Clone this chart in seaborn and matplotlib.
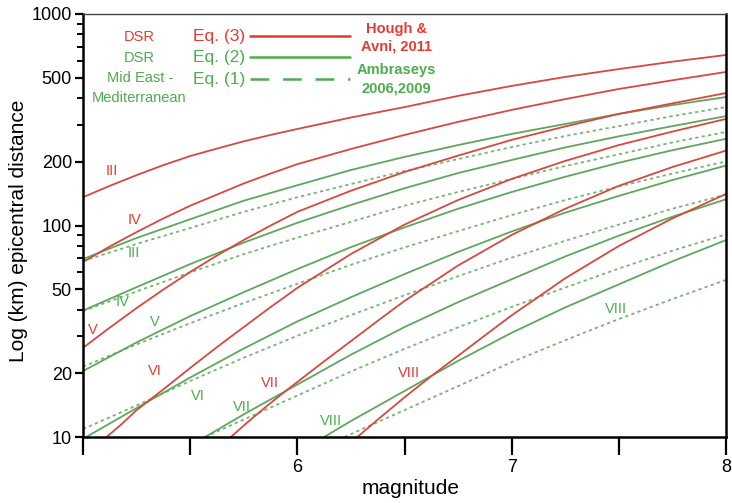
import pandas as pd
import seaborn as sns
import matplotlib.pyplot as plt
from matplotlib.lines import Line2D
from matplotlib.ticker import FixedLocator, NullFormatter, FixedFormatter

# distances in km, for each intensity curve
grid = [5.0, 5.25, 5.5, 5.75, 6.0, 6.25, 6.5, 6.75, 7.0, 7.25, 7.5, 7.75, 8.0]
fine = [5.0, 5.125, 5.25, 5.375, 5.5, 5.625, 5.75, 5.875, 6.0,
        6.25, 6.5, 6.75, 7.0, 7.25, 7.5, 7.75, 8.0]

# Eq. (3) DSR, Hough & Avni 2011 (red)
red_iii_m = fine
red_iii_r = [136, 154, 173, 193, 213, 231, 250, 268, 286, 324, 363, 410, 457, 504, 549, 595, 640]
red_iv_m = fine
red_iv_r = [67.2, 79.6, 93.1, 108, 124, 140, 158, 176, 195, 230, 268, 309, 352, 396, 442, 486, 532]
red_v_m = fine
red_v_r = [26.4, 32.9, 40.7, 49.8, 60.3, 72.1, 85.4, 99.9, 116, 146, 179, 214, 254, 294, 337, 378, 423]
red_vi_m = [5.11, 5.18, 5.25, 5.375, 5.5, 5.625, 5.75, 5.875, 6.0,
            6.25, 6.5, 6.75, 7.0, 7.25, 7.5, 7.75, 8.0]
red_vi_r = [10, 11.5, 13.4, 16.8, 21.2, 26.6, 33.1, 41.1, 50.7, 73.3, 101, 132, 166, 202, 240, 278, 319]
red_vii_m = [5.69, 5.77, 5.85, 5.925, 6.0, 6.125, 6.25, 6.375, 6.5, 6.75, 7.0, 7.25, 7.5, 7.75, 8.0]
red_vii_r = [10, 11.8, 13.8, 15.9, 18.2, 22.8, 28.4, 35.4, 44.0, 64.7, 90.2, 120, 154, 189, 226]
red_viii_m = [6.28, 6.38, 6.5, 6.625, 6.75, 6.875, 7.0, 7.25, 7.5, 7.75, 8.0]
red_viii_r = [10, 12.2, 15.4, 19.4, 24.2, 30.2, 37.6, 56.3, 80.0, 108, 141]

# Eq. (2) DSR (green solid)
g2_iii_m = grid
g2_iii_r = [69.4, 87.3, 107, 131, 155, 183, 211, 240, 271, 302, 337, 371, 405]
g2_iv_m = grid
g2_iv_r = [39.6, 51.1, 65.7, 83.0, 103, 125, 150, 177, 204, 234, 264, 295, 329]
g2_v_m = grid
g2_v_r = [20.5, 28.0, 37.3, 48.4, 62.2, 79.0, 98.0, 120, 144, 170, 198, 227, 257]
g2_vi_m = [5.015] + grid[1:]
g2_vi_r = [10, 13.7, 19.1, 26.2, 35.2, 45.8, 58.9, 75.0, 93.7, 115, 138, 164, 192]
g2_vii_m = [5.57, 5.75, 6.0, 6.25, 6.5, 6.75, 7.0, 7.25, 7.5, 7.75, 8.0]
g2_vii_r = [10, 12.8, 17.7, 24.5, 33.1, 43.4, 55.7, 71.4, 89.5, 110, 133]
g2_viii_m = [6.125, 6.25, 6.5, 6.75, 7.0, 7.25, 7.5, 7.75, 8.0]
g2_viii_r = [10, 11.9, 16.5, 22.9, 31.1, 41.0, 52.7, 67.7, 85.3]

# Eq. (1) Mid East - Mediterranean, Ambraseys 2006, 2009 (green dashed)
g1_iii_m = grid
g1_iii_r = [67.9, 81.8, 97.3, 116, 136, 157, 181, 206, 235, 265, 295, 329, 363]
g1_iv_m = grid
g1_iv_r = [39.4, 48.8, 60.0, 73.2, 87.7, 104, 124, 144, 166, 191, 217, 247, 277]
g1_v_m = grid
g1_v_r = [21.5, 27.4, 34.5, 43.0, 53.0, 65.2, 78.8, 94.0, 112, 132, 153, 176, 201]
g1_vi_m = grid
g1_vi_r = [10.9, 14.1, 18.4, 23.7, 30.1, 37.7, 46.8, 57.6, 70.5, 84.7, 101, 120, 140]
g1_vii_m = [5.57, 5.75, 6.0, 6.25, 6.5, 6.75, 7.0, 7.25, 7.5, 7.75, 8.0]
g1_vii_r = [10, 12.1, 15.7, 20.4, 26.1, 33.0, 41.2, 50.9, 62.6, 76.0, 90.8]
g1_viii_m = [6.22, 6.5, 6.75, 7.0, 7.25, 7.5, 7.75, 8.0]
g1_viii_r = [10, 13.4, 17.4, 22.6, 28.7, 36.1, 44.9, 55.3]

intensities = ["III", "IV", "V", "VI", "VII", "VIII"]

# curve labels
red_lab = ["III", "IV", "V", "VI", "VII", "VIII"]
red_lab_m = [5.135, 5.242, 5.047, 5.335, 5.870, 6.521]
red_lab_r = [181, 106, 32.1, 20.5, 18.0, 20.1]
green_lab = ["III", "IV", "V", "VI", "VII", "VIII", "VIII"]
green_lab_m = [5.237, 5.186, 5.335, 5.535, 5.74, 6.158, 7.488]
green_lab_r = [74.1, 43.5, 35.0, 15.6, 13.9, 11.9, 40.3]

RED = "#d6493f"
RED_TXT = "#e83a30"
GREEN = "#5da85d"
GREEN_DASH = "#78b478"
GREEN_TXT = "#4cae4c"

curves = {
    "eq3": [(red_iii_m, red_iii_r), (red_iv_m, red_iv_r), (red_v_m, red_v_r),
            (red_vi_m, red_vi_r), (red_vii_m, red_vii_r), (red_viii_m, red_viii_r)],
    "eq2": [(g2_iii_m, g2_iii_r), (g2_iv_m, g2_iv_r), (g2_v_m, g2_v_r),
            (g2_vi_m, g2_vi_r), (g2_vii_m, g2_vii_r), (g2_viii_m, g2_viii_r)],
    "eq1": [(g1_iii_m, g1_iii_r), (g1_iv_m, g1_iv_r), (g1_v_m, g1_v_r),
            (g1_vi_m, g1_vi_r), (g1_vii_m, g1_vii_r), (g1_viii_m, g1_viii_r)],
}

rows = []
for eq, lst in curves.items():
    for inten, (ms, rs) in zip(intensities, lst):
        for m, r in zip(ms, rs):
            rows.append({"magnitude": m, "distance": r, "eq": eq, "intensity": inten})
df = pd.DataFrame(rows)

sns.set_theme(style="ticks")
plt.rcParams["font.family"] = ["Liberation Sans", "DejaVu Sans"]

fig = plt.figure(figsize=(7.32, 5.03), dpi=100)
ax = fig.add_axes([83 / 732, 66 / 503, 643 / 732, 423 / 503])

sns.lineplot(
    data=df, x="magnitude", y="distance", hue="eq", style="eq",
    units="intensity", estimator=None, sort=False, legend=False,
    hue_order=["eq1", "eq2", "eq3"], style_order=["eq1", "eq2", "eq3"],
    palette={"eq1": GREEN_DASH, "eq2": GREEN, "eq3": RED},
    dashes={"eq1": (1.8, 1.8), "eq2": "", "eq3": ""},
    linewidth=1.3, ax=ax,
)

ax.set_yscale("log")
ax.set_xlim(5.0, 8.0)
ax.set_ylim(10, 1000)

ax.xaxis.set_major_locator(FixedLocator([5.0, 5.5, 6.0, 6.5, 7.0, 7.5, 8.0]))
ax.xaxis.set_major_formatter(FixedFormatter(["", "", "6", "", "7", "", "8"]))
ax.xaxis.set_minor_locator(FixedLocator([]))
ax.yaxis.set_major_locator(FixedLocator([10, 20, 50, 100, 200, 500, 1000]))
ax.yaxis.set_major_formatter(FixedFormatter(["10", "20", "50", "100", "200", "500", "1000"]))
ax.yaxis.set_minor_locator(FixedLocator([30, 40, 60, 70, 80, 90, 300, 400, 600, 700, 800, 900]))
ax.yaxis.set_minor_formatter(NullFormatter())

ax.tick_params(axis="x", which="major", direction="out", length=13, width=1.6,
               labelsize=13, pad=3, color="black", labelcolor="black")
ax.tick_params(axis="y", which="major", direction="out", length=6, width=1.6,
               labelsize=13, pad=2, color="black", labelcolor="black")
ax.tick_params(axis="y", which="minor", direction="out", length=4, width=1.4, color="black")

for side in ["left", "bottom", "right"]:
    ax.spines[side].set_linewidth(1.8)
    ax.spines[side].set_color("black")
ax.spines["top"].set_linewidth(1.0)
ax.spines["top"].set_color("#444444")
ax.set_facecolor("white")

ax.set_xlabel("magnitude", fontsize=15, color="black")
ax.set_ylabel("Log (km) epicentral distance", fontsize=15, color="black")
ax.xaxis.set_label_coords(0.509, -0.1)
ax.yaxis.set_label_coords(-0.086, 0.487)

for t, m, r in zip(red_lab, red_lab_m, red_lab_r):
    ax.text(m, r, t, color=RED_TXT, fontsize=10.5, ha="center", va="center")
for t, m, r in zip(green_lab, green_lab_m, green_lab_r):
    ax.text(m, r, t, color=GREEN_TXT, fontsize=10.5, ha="center", va="center")

# key drawn at the top left
tr = ax.transAxes
ax.text(0.087, 0.946, "DSR", color=RED_TXT, fontsize=10.5, ha="center", va="center", transform=tr)
ax.text(0.087, 0.896, "DSR", color=GREEN_TXT, fontsize=10.5, ha="center", va="center", transform=tr)
ax.text(0.089, 0.849, "Mid East -", color=GREEN_TXT, fontsize=10.5, ha="center", va="center", transform=tr)
ax.text(0.087, 0.801, "Mediterranean", color=GREEN_TXT, fontsize=10.5, ha="center", va="center", transform=tr)
ax.text(0.252, 0.946, "Eq. (3)", color=RED_TXT, fontsize=12.5, ha="right", va="center", transform=tr)
ax.text(0.252, 0.896, "Eq. (2)", color=GREEN_TXT, fontsize=12.5, ha="right", va="center", transform=tr)
ax.text(0.252, 0.846, "Eq. (1)", color=GREEN_TXT, fontsize=12.5, ha="right", va="center", transform=tr)
ax.add_line(Line2D([0.260, 0.415], [0.948, 0.948], color="#e2392f", lw=1.8, transform=tr))
ax.add_line(Line2D([0.260, 0.415], [0.898, 0.898], color="#4cae4c", lw=1.8, transform=tr))
ax.add_line(Line2D([0.260, 0.415], [0.846, 0.846], color="#4cae4c", lw=1.8,
                   linestyle=(0, (7.5, 5.5)), transform=tr))
ax.text(0.488, 0.965, "Hough &", color=RED_TXT, fontsize=10.5, fontweight="bold",
        ha="center", va="center", transform=tr)
ax.text(0.488, 0.922, "Avni, 2011", color=RED_TXT, fontsize=10.5, fontweight="bold",
        ha="center", va="center", transform=tr)
ax.text(0.488, 0.868, "Ambraseys", color=GREEN_TXT, fontsize=10.5, fontweight="bold",
        ha="center", va="center", transform=tr)
ax.text(0.488, 0.825, "2006,2009", color=GREEN_TXT, fontsize=10.5, fontweight="bold",
        ha="center", va="center", transform=tr)

fig.savefig("out.png", dpi=100, facecolor="white")
